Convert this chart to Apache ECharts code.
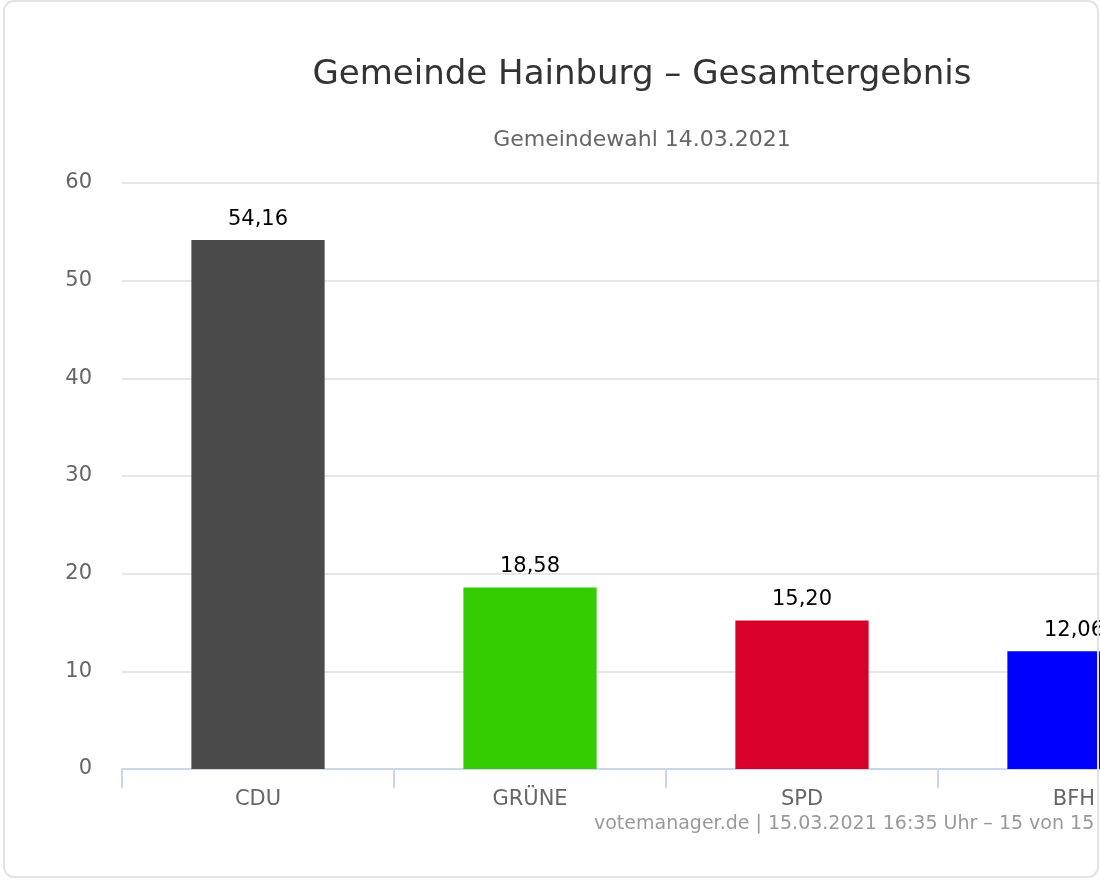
<!DOCTYPE html>
<html>
<head>
<meta charset="utf-8">
<script src="https://cdn.jsdelivr.net/npm/echarts@6/dist/echarts.min.js"></script>
<style>
html,body{margin:0;padding:0;background:#fff;}
#c{width:1100px;height:881px;}
</style>
</head>
<body>
<div id="c"></div>
<script>
const categories = ['CDU', 'GRÜNE', 'SPD', 'BFH'];
const values = [54.16, 18.58, 15.20, 12.06];
const barColors = ['#4a4a4a', '#33cc00', '#d7002a', '#0000ff'];
const yTicks = [0, 10, 20, 30, 40, 50, 60];
const titleText = 'Gemeinde Hainburg – Gesamtergebnis';
const subtitleText = 'Gemeindewahl 14.03.2021';
const creditText = 'votemanager.de | 15.03.2021 16:35 Uhr – 15 von 15 Bezirken';

const FONT = '"DejaVu Sans", sans-serif';
const chart = echarts.init(document.getElementById('c'));
chart.setOption({
  animation: false,
  textStyle: { fontFamily: FONT },
  title: [
    { text: titleText, left: 637, top: 53, textAlign: 'center',
      textStyle: { fontFamily: FONT, fontSize: 34, fontWeight: 'normal', color: '#333333' } },
    { text: subtitleText, left: 637, top: 124, textAlign: 'center',
      textStyle: { fontFamily: FONT, fontSize: 22, fontWeight: 'normal', color: '#666666' } }
  ],
  grid: { left: 122, top: 183, width: 1088, height: 586, containLabel: false, outerBoundsMode: 'none' },
  xAxis: {
    type: 'category',
    data: categories,
    axisLine: { lineStyle: { color: '#ccd6eb', width: 2 } },
    axisTick: { show: true, length: 19, lineStyle: { color: '#ccd6eb', width: 2 } },
    axisLabel: { color: '#666666', fontSize: 21, margin: 20, fontFamily: FONT },
    splitLine: { show: false }
  },
  yAxis: {
    type: 'value',
    min: yTicks[0],
    max: yTicks[yTicks.length - 1],
    interval: 10,
    axisLine: { show: false },
    axisTick: { show: false },
    axisLabel: { color: '#666666', fontSize: 21, margin: 30, fontFamily: FONT },
    splitLine: { lineStyle: { color: '#e6e6e6', width: 2 } }
  },
  series: [{
    type: 'bar',
    data: values.map((v, i) => ({ value: v, itemStyle: { color: barColors[i] } })),
    barWidth: '49%',
    label: {
      show: true,
      position: 'top',
      distance: 10,
      color: '#000000',
      fontSize: 21,
      fontFamily: FONT,
      formatter: p => p.value.toFixed(2).replace('.', ',')
    }
  }],
  graphic: [
    { type: 'text', left: 594, top: 815, silent: true,
      style: { text: creditText, fill: '#999999', fontSize: 19, fontFamily: FONT } },
    { type: 'rect', silent: true, z: 100,
      shape: { x: 4, y: 1, width: 1094, height: 876, r: 10 },
      style: { fill: 'none', stroke: '#e3e3e3', lineWidth: 2 } }
  ]
});
</script>
</body>
</html>
